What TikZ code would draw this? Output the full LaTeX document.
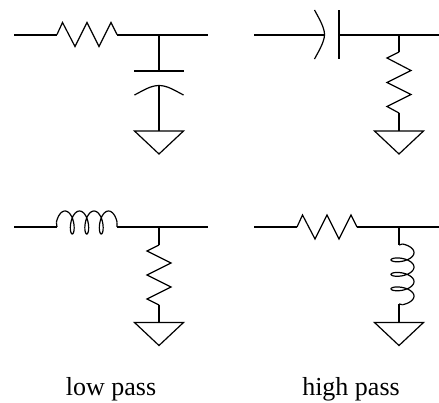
\documentclass[tikz,border=0pt]{standalone}
\usepackage{fontspec}
\setmainfont{Liberation Serif}
\tikzset{
  wire/.style={line width=2pt,line cap=butt},
  part/.style={line width=1.2pt,line join=miter},
  caption/.style={font=\fontsize{26}{28}\selectfont,inner sep=0pt,anchor=base},
  pics/ground/.style={code={\draw[part] (-24.5,0) -- (24.5,0) -- (0,23) -- cycle;}},
  pics/zigzag/.style={code={\draw[part] (0,0) -- (5.5,-12) -- (18,12) -- (30,-12) -- (42,12) -- (54,-12) -- (60,0);}}
}
\begin{document}
\begin{tikzpicture}[x=1pt,y=-1pt]
\useasboundingbox (0,0) rectangle (439,402);
% top left: low pass RC
\coordinate (a1) at (14,34.5); \coordinate (a2) at (57,34.5); \coordinate (a3) at (117,34.5);
\coordinate (a4) at (208,34.5); \coordinate (aj) at (159,34.5); \coordinate (ap) at (159,71);
\coordinate (ac) at (159,85.5); \coordinate (ag) at (159,131);
\draw[wire] (a1) -- (a2) (a3) -- (a4) (aj) -- (ap) (ac) -- (ag);
\pic at (a2) {zigzag};
\draw[wire] (134,71) -- (184,71);
\draw[part] (134.5,95) .. controls (144,90) and (151,85.5) .. (ac) .. controls (167,85.5) and (174,90) .. (183.5,95);
\pic at (ag) {ground};
% top right: high pass CR
\coordinate (b1) at (254,34.5); \coordinate (b2) at (324.5,34.5); \coordinate (b3) at (339,34.5);
\coordinate (b4) at (439,34.5); \coordinate (bj) at (399,34.5); \coordinate (bz) at (399,52);
\coordinate (bw) at (399,113); \coordinate (bg) at (399,131);
\draw[wire] (b1) -- (b2) (b3) -- (b4) (bj) -- (bz) (bw) -- (bg);
\draw[wire] (339,10) -- (339,59);
\draw[part] (314.5,10) .. controls (320,20) and (324.5,28) .. (b2) .. controls (324.5,41) and (320,49) .. (314.5,59);
\draw[part] (bz) -- (387,58) -- (411,70.5) -- (387,82.5) -- (411,94.5) -- (387,106.5) -- (bw);
\pic at (bg) {ground};
% bottom left: low pass LR
\coordinate (c1) at (14,227); \coordinate (c2) at (57,227); \coordinate (c3) at (117,227);
\coordinate (c4) at (208,227); \coordinate (cj) at (159,227); \coordinate (cz) at (159,245);
\coordinate (cw) at (159,305); \coordinate (cg) at (159,322.5);
\draw[wire] (c1) -- (c2) (c3) -- (c4) (cj) -- (cz) (cw) -- (cg);
\draw[part,smooth,samples=110,variable=\t,domain=-90:1170]
  plot ({65+0.040278*\t+5*sin(\t)},{222.5-11.5*cos(\t)});
\draw[part] (56.4,222.5) -- (c2) (117.1,222.5) -- (c3);
\draw[part] (cz) -- (147,251) -- (171,263) -- (147,275) -- (171,287) -- (147,299) -- (cw);
\pic at (cg) {ground};
% bottom right: high pass RL
\coordinate (d1) at (254,227); \coordinate (d2) at (297,227); \coordinate (d3) at (357,227);
\coordinate (d4) at (439,227); \coordinate (dj) at (399,227); \coordinate (dz) at (399,245);
\coordinate (dw) at (399,304); \coordinate (dg) at (399,322.5);
\draw[wire] (d1) -- (d2) (d3) -- (d4) (dj) -- (dz) (dw) -- (dg);
\pic at (d2) {zigzag};
\draw[part,smooth,samples=110,variable=\t,domain=-90:1170]
  plot ({402.5+11.5*cos(\t)},{252.6+0.040278*\t+5*sin(\t)});
\draw[part] (dz) -- (402.5,244) (dw) -- (402.5,304.7);
\pic at (dg) {ground};
% captions
\node[caption] (lp) at (111,395) {low pass};
\node[caption] (hp) at (351,395) {high pass};
\end{tikzpicture}
\end{document}
